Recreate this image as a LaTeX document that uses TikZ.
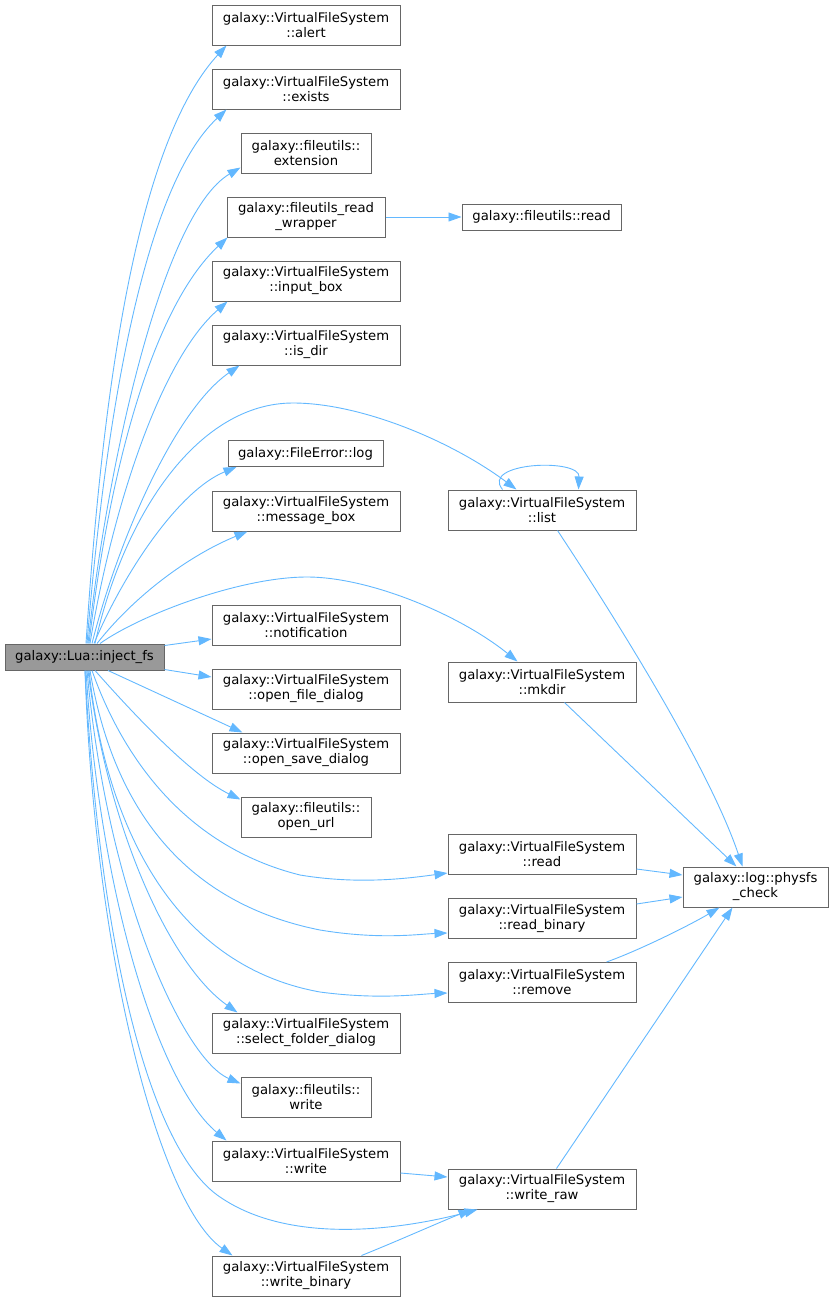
\documentclass[tikz,border=0pt]{standalone}
\usepackage{fontspec}
\setmainfont{DejaVu Sans}
\usetikzlibrary{arrows.meta,calc}
\definecolor{edgec}{HTML}{63B8FF}
\definecolor{boxc}{HTML}{666666}
\definecolor{rootc}{HTML}{999999}
\begin{document}
\begin{tikzpicture}[x=1pt,y=-1pt,
  fn/.style={draw=boxc,line width=1pt,fill=white,inner sep=0pt,align=center,
    font=\fontsize{13.2}{15}\selectfont,text=black,minimum width=188pt,minimum height=40pt},
  fnone/.style={fn,minimum height=26pt},
  rootfn/.style={fnone,fill=rootc},
  call/.style={draw=edgec,line width=0.9pt,-{Triangle[length=13pt,width=9pt]}}]
\useasboundingbox (0,0) rectangle (833,1301);
% nodes
\node[rootfn,minimum width=159pt] (IF) at (84.5,657) {galaxy::Lua::inject\_fs};
\node[fn] (alert) at (306,25) {galaxy::VirtualFileSystem\\::alert};
\node[fn] (exists) at (306,89) {galaxy::VirtualFileSystem\\::exists};
\node[fn,minimum width=130pt] (ext) at (306,153) {galaxy::fileutils::\\extension};
\node[fn,minimum width=158pt] (wrap) at (306,217) {galaxy::fileutils\_read\\\_wrapper};
\node[fnone,minimum width=159pt] (fread) at (541.5,217) {galaxy::fileutils::read};
\node[fn] (input) at (306,281) {galaxy::VirtualFileSystem\\::input\_box};
\node[fn] (isdir) at (306,345) {galaxy::VirtualFileSystem\\::is\_dir};
\node[fnone,minimum width=155pt] (felog) at (305.5,453.5) {galaxy::FileError::log};
\node[fn] (msg) at (306,511) {galaxy::VirtualFileSystem\\::message\_box};
\node[fn] (notif) at (306,625) {galaxy::VirtualFileSystem\\::notification};
\node[fn] (ofd) at (306,689) {galaxy::VirtualFileSystem\\::open\_file\_dialog};
\node[fn] (osd) at (306,753) {galaxy::VirtualFileSystem\\::open\_save\_dialog};
\node[fn,minimum width=130pt] (ourl) at (306,817) {galaxy::fileutils::\\open\_url};
\node[fn] (sfd) at (306,1033) {galaxy::VirtualFileSystem\\::select\_folder\_dialog};
\node[fn,minimum width=130pt] (fwrite) at (306,1097) {galaxy::fileutils::\\write};
\node[fn] (vwrite) at (306,1161) {galaxy::VirtualFileSystem\\::write};
\node[fn] (wbin) at (306,1276) {galaxy::VirtualFileSystem\\::write\_binary};
\node[fn] (list) at (542,510) {galaxy::VirtualFileSystem\\::list};
\node[fn] (mkdir) at (542,682) {galaxy::VirtualFileSystem\\::mkdir};
\node[fn] (read) at (542,854.5) {galaxy::VirtualFileSystem\\::read};
\node[fn] (rbin) at (542,918.5) {galaxy::VirtualFileSystem\\::read\_binary};
\node[fn] (remove) at (542,982.5) {galaxy::VirtualFileSystem\\::remove};
\node[fn] (wraw) at (542,1189) {galaxy::VirtualFileSystem\\::write\_raw};
\node[fn,minimum width=145pt] (phys) at (755.5,887) {galaxy::log::physfs\\\_check};
% upper fan
\draw[call] ([xshift=1.5pt]IF.north) .. controls (100,430) and (130,150) .. ([xshift=15pt]alert.south west);
\draw[call] ([xshift=2.5pt]IF.north) .. controls (101,470) and (135,195) .. ([xshift=15pt]exists.south west);
\draw[call] ([xshift=3.5pt]IF.north) .. controls (105,480) and (160,215) .. ([yshift=6pt]ext.south west);
\draw[call] ([xshift=4.5pt]IF.north) .. controls (108,480) and (150,310) .. ([xshift=1pt]wrap.south west);
\draw[call] ([xshift=5.5pt]IF.north) .. controls (112,510) and (160,360) .. ([xshift=16pt]input.south west);
\draw[call] ([xshift=7.5pt]IF.north) .. controls (118,540) and (175,410) .. ([xshift=28pt]isdir.south west);
\draw[call] ([xshift=10.5pt]IF.north) .. controls (125,510) and (200,403) .. (293,403)
   .. controls (360,403) and (450,440) .. ([xshift=69pt]list.north west);
\draw[call] ([xshift=9.5pt]IF.north) .. controls (125,570) and (180,490) .. ([xshift=9pt]felog.south west);
\draw[call] ([xshift=12.5pt]IF.north) .. controls (135,595) and (190,555) .. ([xshift=36pt]msg.south west);
\draw[call] ([xshift=15.5pt]IF.north) .. controls (140,615) and (240,577) .. (307,577)
   .. controls (370,577) and (460,615) .. ([xshift=70pt]mkdir.north west);
% right side straight
\draw[call] ([yshift=-2pt]IF.north east) -- ([yshift=-14pt]notif.west);
\draw[call] ([yshift=1pt]IF.south east) -- ([yshift=12pt]ofd.west);
\draw[call] ([xshift=23.5pt]IF.south) -- ([xshift=31pt]osd.north west);
% lower fan
\draw[call] ([xshift=10.5pt]IF.south) .. controls (130,710) and (190,775) .. ([yshift=-3pt]ourl.north west);
\draw[call] ([xshift=7.5pt]IF.south) .. controls (120,750) and (180,845) .. (300,875)
   .. controls (360,885) and (410,878) .. ([yshift=2pt]read.south west);
\draw[call] ([xshift=5.5pt]IF.south) .. controls (110,790) and (170,900) .. (320,930)
   .. controls (380,940) and (420,934) .. ([yshift=-14.5pt]rbin.west);
\draw[call] ([xshift=4.5pt]IF.south) .. controls (105,820) and (170,965) .. (320,992)
   .. controls (380,1000) and (420,994) .. ([yshift=-10.5pt]remove.west);
\draw[call] ([xshift=3.5pt]IF.south) .. controls (108,830) and (170,965) .. ([xshift=26pt]sfd.north west);
\draw[call] ([xshift=2.5pt]IF.south) .. controls (108,900) and (185,1060) .. ([yshift=-7pt]fwrite.north west);
\draw[call] ([xshift=1.5pt]IF.south) .. controls (100,900) and (160,1085) .. ([xshift=15pt]vwrite.north west);
\draw[call] ([xshift=0.5pt]IF.south) .. controls (100,950) and (150,1150) .. (220,1197)
   .. controls (290,1245) and (400,1230) .. ([xshift=30pt]wraw.south west);
\draw[call] ([xshift=0.5pt]IF.south) .. controls (95,960) and (160,1205) .. ([xshift=21pt]wbin.north west);
% second level
\draw[call] (wrap.east) -- (fread.west);
\draw[call] ([xshift=55pt]list.north west) .. controls (480,462) and (580,458) .. ([xshift=131pt]list.north west);
\draw[call] ([xshift=110pt]list.south west) .. controls (620,625) and (710,770) .. ([xshift=60pt]phys.north west);
\draw[call] ([xshift=117pt]mkdir.south west) -- ([xshift=54pt]phys.north west);
\draw[call] ([yshift=-14.5pt]read.east) -- ([yshift=12pt]phys.west);
\draw[call] ([yshift=14.5pt]rbin.east) -- ([yshift=-10pt]phys.west);
\draw[call] ([xshift=159pt]remove.north west) .. controls (640,950) and (690,925) .. ([xshift=37pt]phys.south west);
\draw[call] ([xshift=109pt]wraw.north west) -- ([xshift=50pt]phys.south west);
\draw[call] ([yshift=-12pt]vwrite.east) -- ([yshift=12pt]wraw.west);
\draw[call] ([xshift=150pt]wbin.north west) .. controls (400,1240) and (440,1222) .. ([xshift=24pt]wraw.south west);
\end{tikzpicture}
\end{document}
